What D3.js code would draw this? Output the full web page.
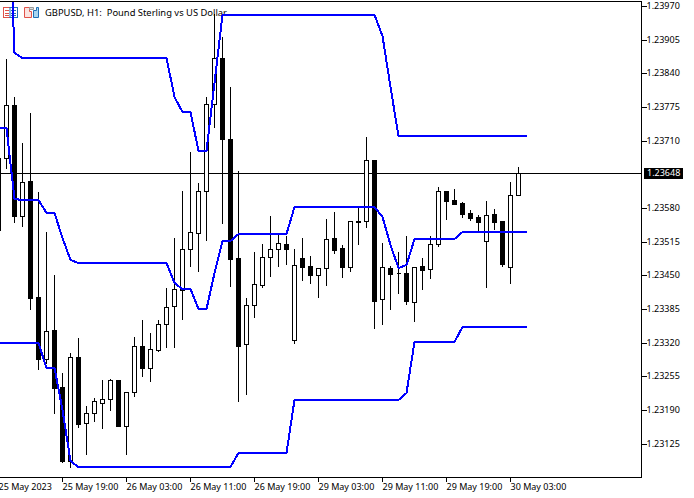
<!DOCTYPE html>
<html><head><meta charset="utf-8">
<script src="https://cdn.jsdelivr.net/npm/d3@7"></script>
<style>
html,body{margin:0;padding:0;background:#fff;overflow:hidden}
svg{display:block}
text{font-family:"Noto Sans",sans-serif;font-size:9px;fill:#000}
</style></head><body>
<script>
const symbolTitle = "GBPUSD, H1:  Pound Sterling vs US Dollar";
const currentPrice = 1.23648;
const priceTicks = [1.23970,1.23905,1.23840,1.23775,1.23710,1.23580,1.23515,1.23450,1.23385,1.23320,1.23255,1.23190,1.23125];
const timeTickBars = [0,8,16,24,32,40,48,56,64];
const timeTickLabels = ["25 May 2023","25 May 19:00","26 May 03:00","26 May 11:00","26 May 19:00","29 May 03:00","29 May 11:00","29 May 19:00","30 May 03:00"];

const open = [1.23537,1.23676,1.23779,1.23564,1.23632,1.23408,1.23288,1.23344,1.23234,1.23091,1.23292,1.23165,1.23184,1.23203,1.23211,1.23248,1.23159,1.23224,1.23313,1.23271,1.23306,1.23356,1.23391,1.23421,1.23501,1.23532,1.23613,1.23781,1.23870,1.23713,1.23483,1.23317,1.23392,1.23431,1.23485,1.23501,1.23510,1.23325,1.23483,1.23468,1.23450,1.23464,1.23522,1.23503,1.23466,1.23555,1.23555,1.23673,1.23404,1.23464,1.23454,1.23454,1.23398,1.23468,1.23462,1.23510,1.23613,1.23595,1.23590,1.23570,1.23562,1.23516,1.23568,1.23555,1.23466,1.23605];
const high = [1.23682,1.23870,1.23796,1.23707,1.23765,1.23613,1.23535,1.23452,1.23263,1.23302,1.23331,1.23199,1.23215,1.23250,1.23251,1.23248,1.23226,1.23333,1.23365,1.23340,1.23365,1.23427,1.23524,1.23615,1.23690,1.23630,1.23796,1.23957,1.23912,1.23816,1.23653,1.23408,1.23497,1.23512,1.23566,1.23533,1.23528,1.23503,1.23524,1.23489,1.23466,1.23561,1.23574,1.23510,1.23557,1.23582,1.23719,1.23673,1.23514,1.23470,1.23497,1.23528,1.23466,1.23485,1.23528,1.23622,1.23615,1.23619,1.23593,1.23578,1.23568,1.23595,1.23580,1.23557,1.23632,1.23661];
const low = [1.23533,1.23657,1.23553,1.23545,1.23385,1.23269,1.23281,1.23184,1.23089,1.23080,1.23157,1.23105,1.23168,1.23155,1.23190,1.23159,1.23105,1.23217,1.23255,1.23246,1.23304,1.23311,1.23311,1.23365,1.23468,1.23458,1.23518,1.23736,1.23551,1.23429,1.23207,1.23221,1.23369,1.23427,1.23448,1.23468,1.23472,1.23319,1.23441,1.23435,1.23408,1.23431,1.23493,1.23447,1.23458,1.23510,1.23543,1.23348,1.23356,1.23385,1.23416,1.23394,1.23362,1.23423,1.23445,1.23506,1.23559,1.23588,1.23562,1.23557,1.23533,1.23427,1.23539,1.23468,1.23435,1.23605];
const close = [1.23676,1.23779,1.23564,1.23630,1.23406,1.23288,1.23342,1.23232,1.23091,1.23292,1.23163,1.23184,1.23207,1.23211,1.23248,1.23159,1.23224,1.23313,1.23271,1.23308,1.23356,1.23389,1.23423,1.23501,1.23533,1.23613,1.23781,1.23870,1.23713,1.23481,1.23313,1.23392,1.23433,1.23485,1.23501,1.23512,1.23501,1.23470,1.23466,1.23450,1.23464,1.23520,1.23499,1.23466,1.23555,1.23553,1.23673,1.23400,1.23466,1.23452,1.23454,1.23400,1.23466,1.23460,1.23510,1.23613,1.23593,1.23588,1.23568,1.23561,1.23553,1.23566,1.23553,1.23472,1.23605,1.23648];

const upperBand = [1.24289,1.24289,1.23879,
 1.23870,1.23870,1.23870,1.23870,1.23870,1.23870,1.23870,1.23870,1.23870,1.23870,1.23870,1.23870,1.23870,1.23870,1.23870,1.23870,1.23870,1.23870,1.23870,
 1.23794,1.23765,1.23765,1.23690,1.23690,1.23821,
 1.23953,1.23953,1.23953,1.23953,1.23953,1.23953,1.23953,1.23953,1.23953,1.23953,1.23953,1.23953,1.23953,1.23953,1.23953,1.23953,1.23953,1.23953,1.23953,1.23953,
 1.23912,1.23814,
 1.23719,1.23719,1.23719,1.23719,1.23719,1.23719,1.23719,1.23719,1.23719,1.23719,1.23719,1.23719,1.23719,1.23719,1.23719,1.23719,1.23719];
const middleBand = [1.23734,1.23734,1.23597,1.23595,1.23595,1.23595,1.23570,1.23570,1.23522,1.23479,
 1.23474,1.23474,1.23474,1.23474,1.23474,1.23474,1.23474,1.23474,1.23474,1.23474,1.23474,1.23474,
 1.23435,1.23423,1.23423,1.23385,1.23385,1.23454,1.23516,1.23516,1.23530,
 1.23530,1.23530,1.23530,1.23530,1.23530,1.23530,
 1.23582,1.23582,1.23582,1.23582,1.23582,1.23582,1.23582,1.23582,1.23582,1.23582,1.23582,
 1.23562,1.23508,1.23464,1.23470,
 1.23520,1.23520,1.23520,1.23520,1.23520,1.23520,
 1.23533,1.23533,1.23533,1.23533,1.23533,1.23533,1.23533,1.23533,1.23533];
const lowerBand = [1.23319,1.23319,1.23319,1.23319,1.23319,1.23319,1.23271,1.23271,1.23190,1.23091,
 1.23080,1.23080,1.23080,1.23080,1.23080,1.23080,1.23080,1.23080,1.23080,1.23080,1.23080,1.23080,1.23080,1.23080,1.23080,1.23080,1.23080,1.23080,1.23080,1.23080,
 1.23107,1.23107,1.23107,1.23107,1.23107,1.23107,1.23107,
 1.23209,1.23209,1.23209,1.23209,1.23209,1.23209,1.23209,1.23209,1.23209,1.23209,1.23209,1.23209,1.23209,1.23209,
 1.23222,
 1.23321,1.23321,1.23321,1.23321,1.23321,1.23321,
 1.23350,1.23350,1.23350,1.23350,1.23350,1.23350,1.23350,1.23350,1.23350];

const W = 694, H = 498, plotRight = 641, plotTop = 1, plotBottom = 477;
const x = d3.scaleLinear().domain([0,65]).range([-2,518]);
const y = d3.scaleLinear().domain([1.23970,1.23125]).rangeRound([6,443.5]);
const px = v => x(v) + 0.5, py = v => y(v) + 0.5;

const svg = d3.select("body").append("svg").attr("width",W).attr("height",H);
svg.append("defs").append("clipPath").attr("id","plot").append("rect")
  .attr("x",0).attr("y",plotTop+1).attr("width",plotRight).attr("height",plotBottom-plotTop-1);

// chart header
const hdr = svg.append("g");
hdr.append("rect").attr("x",3.5).attr("y",7.5).attr("width",14).attr("height",10).attr("fill","#fff").attr("stroke","#e0524a");
hdr.append("rect").attr("x",10).attr("y",7.5).attr("width",7.5).attr("height",10).attr("fill","#fff").attr("stroke","#1f6fb5");
[10,13,15].forEach(r=>{
  hdr.append("line").attr("x1",5).attr("x2",9).attr("y1",r+.5).attr("y2",r+.5).attr("stroke","#e0524a");
  hdr.append("line").attr("x1",11).attr("x2",16).attr("y1",r+.5).attr("y2",r+.5).attr("stroke","#1f6fb5");
});
hdr.append("path").attr("d","M24.5 7.5H29.5V11.5H31.5V17.5H24.5Z").attr("fill","#fbe3e0").attr("stroke","#e0524a");
hdr.append("path").attr("d","M33.5 10.5V17.5H38.5V7.5H36.5V10.5Z").attr("fill","#a9d5f0").attr("stroke","#1f6fb5");
hdr.append("path").attr("d","M29.5 7.5H33.5V9.5H29.5Z").attr("fill","#ddd").attr("stroke","#999");
hdr.append("text").attr("x",45).attr("y",16).style("white-space","pre").style("font-size","9.4px").text(symbolTitle);

const plot = svg.append("g").attr("clip-path","url(#plot)");
plot.append("line").attr("x1",0).attr("x2",plotRight).attr("y1",py(currentPrice)).attr("y2",py(currentPrice))
  .attr("stroke","#000").attr("shape-rendering","crispEdges");

const bars = d3.range(open.length);
const candles = plot.append("g").attr("shape-rendering","crispEdges");
candles.selectAll("line").data(bars).join("line")
  .attr("x1",px).attr("x2",px).attr("y1",i=>py(high[i])).attr("y2",i=>py(low[i])+0.5)
  .attr("stroke","#000");
candles.selectAll("path").data(bars).join("path")
  .attr("d",i=>{
    const t = py(Math.max(open[i],close[i])), b = py(Math.min(open[i],close[i])), c = px(i);
    return `M${c-2} ${t}H${c+2}V${b}H${c-2}Z`;
  })
  .attr("fill",i=>close[i]>=open[i]?"#fff":"#000")
  .attr("stroke","#000");

const line = d3.line().x((d,i)=>x(i)+0.5).y(d=>y(d));
plot.selectAll("path.band").data([upperBand,middleBand,lowerBand]).join("path")
  .attr("class","band").attr("d",line).attr("fill","none")
  .attr("stroke","#0000ff").attr("stroke-width",2).attr("shape-rendering","crispEdges");

// frame
svg.append("path").attr("d",`M0 ${plotTop+.5}H${plotRight+.5}V${plotBottom+.5}H0`)
  .attr("fill","none").attr("stroke","#000").attr("shape-rendering","crispEdges");

// axes
const yAxis = d3.axisRight(y).tickValues(priceTicks).tickSize(5).tickPadding(0).tickFormat(d3.format(".5f"));
const gy = svg.append("g").attr("transform",`translate(${plotRight+.5},0)`).call(yAxis);
gy.select(".domain").remove();
gy.selectAll("line").attr("stroke","#000").attr("shape-rendering","crispEdges");
gy.selectAll("text").attr("fill","#000");

const xAxis = d3.axisBottom(x).tickValues(timeTickBars).tickSize(4)
  .tickFormat((d,i)=>timeTickLabels[i]);
const gx = svg.append("g").attr("transform",`translate(0,${plotBottom+.5})`).call(xAxis);
gx.select(".domain").remove();
gx.selectAll("line").attr("stroke","#000").attr("shape-rendering","crispEdges");
gx.selectAll("text").attr("text-anchor","start").attr("x",0).attr("y",12).attr("dy",0).attr("fill","#000");

// current price tag
const tag = svg.append("g");
tag.append("rect").attr("x",644).attr("y",168).attr("width",39).attr("height",11).attr("fill","#000");
tag.append("text").attr("x",647).attr("y",py(currentPrice)).attr("dy",".32em").style("fill","#fff").text(d3.format(".5f")(currentPrice));
</script>
</body></html>
